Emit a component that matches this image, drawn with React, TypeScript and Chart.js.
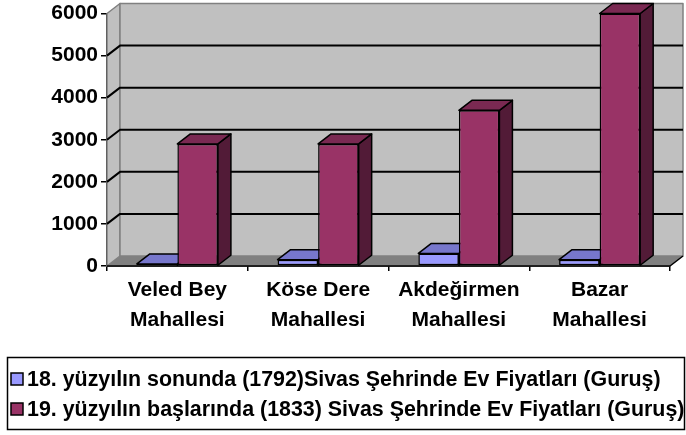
import React, { useEffect, useRef } from "react";
import { Chart, registerables } from "chart.js";

Chart.register(...registerables);

const categories: string[][] = [
  ["Veled Bey", "Mahallesi"],
  ["Köse Dere", "Mahallesi"],
  ["Akdeğirmen", "Mahallesi"],
  ["Bazar", "Mahallesi"],
];
const series1792Label = "18. yüzyılın sonunda (1792)Sivas Şehrinde Ev Fiyatları (Guruş)";
const series1833Label = "19. yüzyılın başlarında (1833) Sivas Şehrinde Ev Fiyatları (Guruş)";
const prices1792 = [50, 150, 300, 150];
const prices1833 = [2900, 2900, 3700, 6000];
const yMin = 0;
const yMax = 6000;
const yStep = 1000;

const FONT = "'Liberation Sans', Arial, sans-serif";
const DX = 13;
const DY = -10;

const faceColors = [
  { front: "#9999FF", top: "#7777CC", side: "#5B5B99" },
  { front: "#993366", top: "#7A2952", side: "#521B37" },
];

function poly(ctx: CanvasRenderingContext2D, pts: number[][], fill: string | null, stroke: string | null, lw = 1.5) {
  ctx.beginPath();
  ctx.moveTo(pts[0][0], pts[0][1]);
  for (let i = 1; i < pts.length; i++) ctx.lineTo(pts[i][0], pts[i][1]);
  ctx.closePath();
  if (fill) {
    ctx.fillStyle = fill;
    ctx.fill();
  }
  if (stroke) {
    ctx.strokeStyle = stroke;
    ctx.lineWidth = lw;
    ctx.lineJoin = "round";
    ctx.stroke();
  }
}

const threeD = {
  id: "threeD",
  beforeDatasetsDraw(chart: any) {
    const { ctx, chartArea, scales } = chart;
    const { left, right } = chartArea;
    const y = scales.y;
    const bottom = y.getPixelForValue(yMin);
    const top = y.getPixelForValue(yMax);
    ctx.save();
    poly(ctx, [[left, bottom], [left, top], [left + DX, top + DY], [left + DX, bottom + DY]], "#C0C0C0", "#808080", 1.5);
    poly(ctx, [[left + DX, top + DY], [right + DX, top + DY], [right + DX, bottom + DY], [left + DX, bottom + DY]], "#C0C0C0", "#808080", 1.5);
    poly(ctx, [[left, bottom], [right, bottom], [right + DX, bottom + DY], [left + DX, bottom + DY]], "#808080", null);
    ctx.beginPath();
    ctx.moveTo(left, bottom);
    ctx.lineTo(right, bottom);
    ctx.lineTo(right + DX, bottom + DY);
    ctx.strokeStyle = "#000";
    ctx.lineWidth = 1.5;
    ctx.stroke();
    for (let v = yMin + yStep; v < yMax; v += yStep) {
      const py = y.getPixelForValue(v);
      ctx.beginPath();
      ctx.moveTo(left, py);
      ctx.lineTo(left + DX, py + DY);
      ctx.lineTo(right + DX, py + DY);
      ctx.strokeStyle = "#000";
      ctx.lineWidth = 2;
      ctx.stroke();
    }
    chart.data.datasets.forEach((_: any, di: number) => {
      const meta = chart.getDatasetMeta(di);
      const c = faceColors[di];
      meta.data.forEach((bar: any) => {
        const p = bar.getProps(["x", "y", "base", "width"], true);
        const l = p.x - p.width / 2;
        const r = p.x + p.width / 2;
        poly(ctx, [[r, p.y], [r + DX, p.y + DY], [r + DX, p.base + DY], [r, p.base]], c.side, "#000");
        poly(ctx, [[l, p.y], [l + DX, p.y + DY], [r + DX, p.y + DY], [r, p.y]], c.top, "#000");
      });
    });
    ctx.restore();
  },
};

const legendBox = {
  id: "legendBox",
  afterDraw(chart: any) {
    const { ctx } = chart;
    ctx.save();
    ctx.strokeStyle = "#000";
    ctx.lineWidth = 1.5;
    ctx.strokeRect(7.5, 357.5, 677, 72);
    const rows = [379, 409];
    chart.data.datasets.forEach((ds: any, i: number) => {
      const cy = rows[i];
      ctx.fillStyle = ds.backgroundColor;
      ctx.fillRect(11, cy - 6, 12, 12);
      ctx.strokeStyle = "#000";
      ctx.lineWidth = 1.5;
      ctx.strokeRect(11, cy - 6, 12, 12);
      ctx.fillStyle = "#000";
      ctx.font = `bold 21.4px ${FONT}`;
      ctx.textBaseline = "middle";
      ctx.textAlign = "left";
      ctx.fillText(ds.label, 27, cy + 1);
    });
    ctx.restore();
  },
};

export default function App() {
  const ref = useRef<HTMLCanvasElement | null>(null);
  useEffect(() => {
    if (!ref.current) return;
    const xFont = { family: FONT, size: 21, weight: "bold" as const, lineHeight: 1.4 };
    const yFont = { family: FONT, size: 21, weight: "bold" as const, lineHeight: 1 };
    const chart = new Chart(ref.current, {
      type: "bar",
      data: {
        labels: categories,
        datasets: [
          {
            label: series1792Label,
            data: prices1792,
            backgroundColor: faceColors[0].front,
            borderColor: "#000",
            borderWidth: 1.5,
            borderSkipped: false,
            categoryPercentage: 0.576,
            barPercentage: 1,
          },
          {
            label: series1833Label,
            data: prices1833,
            backgroundColor: faceColors[1].front,
            borderColor: "#000",
            borderWidth: 1.5,
            borderSkipped: false,
            categoryPercentage: 0.576,
            barPercentage: 1,
          },
        ],
      },
      options: {
        responsive: false,
        animation: false,
        layout: { padding: { top: 13, right: 16, left: 0, bottom: 0 } },
        plugins: { legend: { display: false }, tooltip: { enabled: false } },
        scales: {
          x: {
            ticks: { color: "#000", font: xFont, padding: 5, maxRotation: 0 },
            grid: { drawOnChartArea: false, offset: true, color: "#000", tickLength: 5, lineWidth: 1.5 },
            border: { display: true, color: "#000", width: 1.5 },
            afterFit(s: any) {
              s.height = 169;
            },
          },
          y: {
            min: yMin,
            max: yMax,
            ticks: { stepSize: yStep, color: "#000", font: yFont, padding: 3, callback: (v: any) => String(v) },
            grid: { drawOnChartArea: false, color: "#000", tickLength: 6, lineWidth: 1.5 },
            border: { display: true, color: "#000", width: 1.5 },
            afterFit(s: any) {
              s.width = 107;
            },
          },
        },
      },
      plugins: [threeD, legendBox],
    });
    return () => chart.destroy();
  }, []);
  return (
    <div style={{ position: "absolute", left: 0, top: 0, width: 686, height: 435, background: "#fff" }}>
      <canvas ref={ref} width={686} height={435} style={{ display: "block" }} />
    </div>
  );
}
